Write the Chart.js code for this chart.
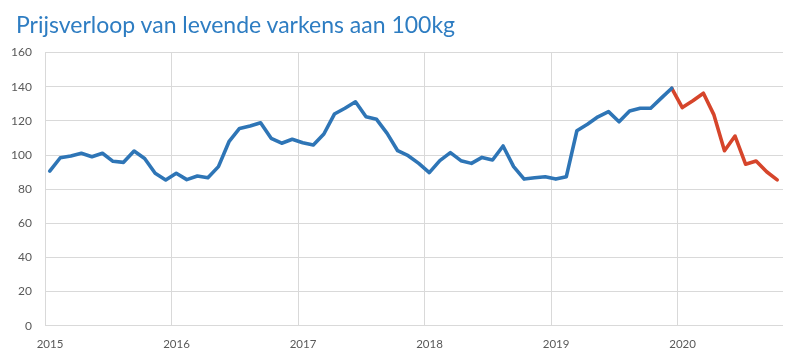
<!DOCTYPE html>
<html>
<head>
<meta charset="utf-8">
<script src="https://cdn.jsdelivr.net/npm/chart.js@4/dist/chart.umd.min.js"></script>
<style>
  html, body { margin: 0; padding: 0; background: #ffffff; }
  #wrap { width: 800px; height: 356px; position: relative; }
  #title {
    position: absolute; left: 16px; top: 11px;
    font-family: Lato, "Open Sans", "Liberation Sans", sans-serif;
    font-size: 23px; line-height: 27.6px; color: #2e7dc2; white-space: nowrap;
  }
  canvas { position: absolute; left: 0; top: 0; }
</style>
</head>
<body>
<div id="wrap">
  <canvas id="c" width="800" height="356"></canvas>
  <div id="title">Prijsverloop van levende varkens aan 100kg</div>
</div>
<script>
// Monthly prices, January 2015 .. October 2020
const startYear = 2015;
const yearLabels = ['2015', '2016', '2017', '2018', '2019', '2020'];
const prices2015 = [90.6, 98.4, 99.4, 101.0, 99.0, 101.0, 96.3, 95.7, 102.3, 98.0, 89.3, 85.4];
const prices2016 = [89.3, 85.6, 87.7, 86.7, 93.2, 107.8, 115.6, 117.0, 118.9, 109.8, 106.9, 109.2];
const prices2017 = [107.2, 105.9, 112.3, 124.0, 127.4, 131.2, 122.4, 120.9, 112.7, 102.5, 99.6, 95.1];
const prices2018 = [89.7, 96.7, 101.4, 96.7, 95.1, 98.6, 97.1, 105.3, 93.2, 85.9, 86.7, 87.3];
const prices2019 = [85.9, 87.3, 114.2, 118.0, 122.4, 125.4, 119.5, 125.8, 127.4, 127.4, 133.3, 139.1];
const prices2020 = [127.8, 131.8, 136.2, 123.5, 102.5, 111.1, 94.6, 96.5, 90.2, 85.4];
const yTicks = [0, 20, 40, 60, 80, 100, 120, 140, 160];

const allPrices = [].concat(prices2015, prices2016, prices2017, prices2018, prices2019, prices2020);
const lastHistoric = prices2015.length + prices2016.length + prices2017.length + prices2018.length + prices2019.length - 1;

// x = months since Jan 2015, plotted mid-month
const pts = allPrices.map((v, i) => ({ x: i + 0.45, y: v }));
const bluePts = pts.slice(0, lastHistoric + 1);
const redPts = pts.slice(lastHistoric);

const FONT = 'Lato, "Open Sans", "Liberation Sans", sans-serif';

new Chart(document.getElementById('c'), {
  type: 'line',
  data: {
    datasets: [
      { data: bluePts, borderColor: '#2e75b6', borderWidth: 3.6, pointRadius: 0, tension: 0,
        borderCapStyle: 'round', borderJoinStyle: 'round', fill: false },
      { data: redPts, borderColor: '#d6452b', borderWidth: 3.6, pointRadius: 0, tension: 0,
        borderCapStyle: 'round', borderJoinStyle: 'round', fill: false }
    ]
  },
  options: {
    responsive: false,
    animation: false,
    events: [],
    layout: { padding: { left: 0, right: 17, top: 52.6, bottom: 0 } },
    plugins: {
      legend: { display: false },
      tooltip: { enabled: false },
      title: { display: false }
    },
    scales: {
      x: {
        type: 'linear',
        min: 0,
        max: 70,
        grid: { color: '#d9d9d9', lineWidth: 1, drawTicks: false },
        border: { display: false },
        ticks: {
          stepSize: 12,
          includeBounds: false,
          padding: 12,
          labelOffset: 5,
          maxRotation: 0,
          color: '#595959',
          font: { family: FONT, size: 11.5 },
          callback: (v) => (v % 12 === 0 && yearLabels[v / 12]) ? yearLabels[v / 12] : null
        },
        afterFit: (s) => { s.height = 30.3; }
      },
      y: {
        min: yTicks[0],
        max: yTicks[yTicks.length - 1],
        grid: { color: '#d9d9d9', lineWidth: 1, drawTicks: false },
        border: { display: false },
        ticks: {
          stepSize: 20,
          padding: 13,
          color: '#595959',
          font: { family: FONT, size: 12 }
        },
        afterFit: (s) => { s.width = 45; }
      }
    }
  }
});
</script>
</body>
</html>
